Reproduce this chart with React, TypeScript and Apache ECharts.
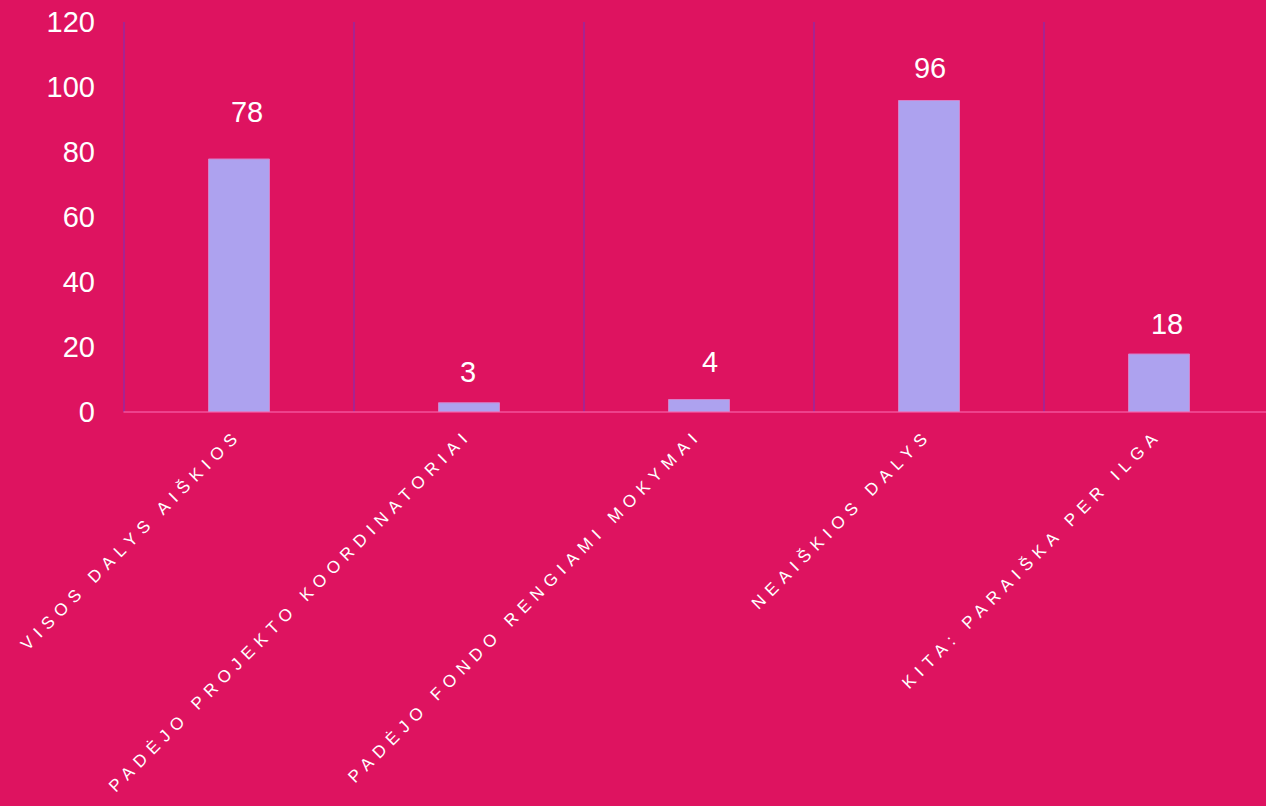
import React, { useEffect, useRef } from "react";
import * as echarts from "echarts";

const categories = [
  "VISOS DALYS AIŠKIOS",
  "PADĖJO PROJEKTO KOORDINATORIAI",
  "PADĖJO FONDO RENGIAMI MOKYMAI",
  "NEAIŠKIOS DALYS",
  "KITA: PARAIŠKA PER ILGA",
];
const values = [78, 3, 4, 96, 18];
const yTicks = { min: 0, max: 120, interval: 20 };

// label placement tweaks (style only)
const labelGaps = [32, 16, 23, 18, 15];
const labelShiftX = [8, -1, 11, 1, 8];

export default function App() {
  const ref = useRef<HTMLDivElement>(null);
  useEffect(() => {
    if (!ref.current) return;
    const el = ref.current;
    const chart = echarts.init(el, undefined, { renderer: "svg" });
    chart.setOption({
      animation: false,
      backgroundColor: "#DE1360",
      grid: { left: 124, right: 0, top: 22, bottom: 394, containLabel: false },
      xAxis: {
        type: "category",
        data: categories,
        axisLine: { show: true, lineStyle: { color: "#F2529A", width: 1.5 } },
        axisTick: { show: false },
        splitLine: { show: true, interval: 0, lineStyle: { color: "#A8228F", width: 2 } },
        axisLabel: {
          rotate: 45,
          interval: 0,
          color: "#FFFFFF",
          fontFamily: "Liberation Sans, Arial, sans-serif",
          fontSize: 17,
          margin: 20,
        },
      },
      yAxis: {
        type: "value",
        min: yTicks.min,
        max: yTicks.max,
        interval: yTicks.interval,
        axisLine: { show: false },
        axisTick: { show: false },
        splitLine: { show: false },
        axisLabel: {
          color: "#FFFFFF",
          fontFamily: "Liberation Sans, Arial, sans-serif",
          fontSize: 29,
          margin: 29,
        },
      },
      series: [
        {
          type: "bar",
          data: values.map((v, i) => ({
            value: v,
            label: { distance: labelGaps[i], offset: [labelShiftX[i], 0] },
          })),
          barWidth: 62,
          itemStyle: { color: "#ADA2EF", borderColor: "#D77FC8", borderWidth: 1 },
          label: {
            show: true,
            position: "top",
            color: "#FFFFFF",
            fontFamily: "Liberation Sans, Arial, sans-serif",
            fontSize: 29,
          },
        },
      ],
    });
    const spaceLabels = () => {
      el.querySelectorAll("text").forEach((t) => {
        if (categories.includes((t.textContent || "").trim())) {
          (t as SVGTextElement).style.letterSpacing = "6.4px";
        }
      });
    };
    spaceLabels();
    chart.on("rendered", spaceLabels);
    const id = requestAnimationFrame(spaceLabels);
    return () => {
      cancelAnimationFrame(id);
      chart.dispose();
    };
  }, []);
  return (
    <div
      style={{
        position: "absolute",
        left: 0,
        top: 0,
        width: 1266,
        height: 806,
        overflow: "hidden",
      }}
    >
      <div ref={ref} style={{ width: 1274, height: 806 }} />
    </div>
  );
}
